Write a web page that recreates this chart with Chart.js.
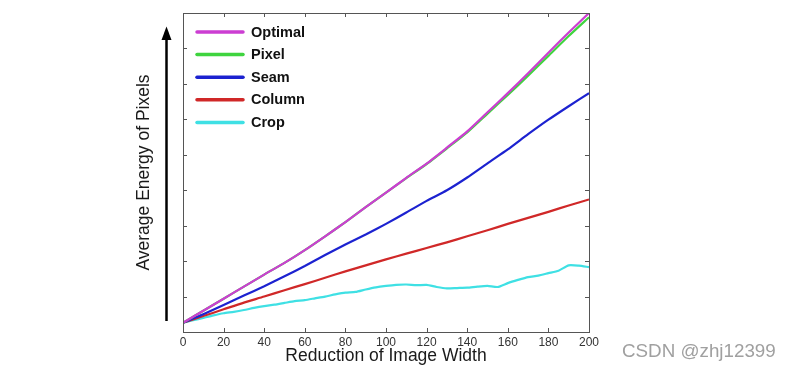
<!DOCTYPE html>
<html><head><meta charset="utf-8">
<script src="https://cdn.jsdelivr.net/npm/chart.js@4.4.1/dist/chart.umd.min.js"></script>
<style>html,body{margin:0;padding:0;background:#fff;}canvas{display:block;}</style>
</head><body>
<canvas id="c" width="794" height="372"></canvas>
<script>
// ---- data ----
const xSteps = [0,10,20,30,40,50,60,70,80,90,100,110,120,130,140,150,160,170,180,190,200];
const optimal = [0.26,0.60,0.94,1.28,1.62,1.95,2.31,2.70,3.10,3.52,3.93,4.35,4.75,5.20,5.66,6.20,6.74,7.30,7.88,8.45,9.00];
const pixel   = [0.26,0.60,0.94,1.28,1.62,1.95,2.31,2.70,3.10,3.52,3.93,4.34,4.74,5.18,5.63,6.16,6.69,7.23,7.79,8.35,8.88];
const seam    = [0.26,0.50,0.76,1.03,1.29,1.57,1.86,2.17,2.47,2.75,3.05,3.37,3.70,4.00,4.36,4.76,5.15,5.58,5.99,6.37,6.74];
const column  = [0.26,0.45,0.64,0.83,1.00,1.18,1.35,1.53,1.71,1.88,2.05,2.21,2.37,2.53,2.70,2.87,3.05,3.22,3.39,3.57,3.74];
const cropX   = [0,5,10,15,20,25,30,35,40,45,50,55,60,65,70,75,80,85,90,95,100,105,110,115,120,125,130,135,140,145,150,155,160,165,170,175,180,185,190,195,200];
const crop    = [0.26,0.33,0.40,0.47,0.53,0.57,0.62,0.68,0.73,0.77,0.82,0.87,0.90,0.95,1.00,1.06,1.11,1.13,1.20,1.26,1.30,1.33,1.34,1.32,1.33,1.27,1.23,1.24,1.25,1.28,1.30,1.27,1.38,1.47,1.55,1.59,1.66,1.73,1.88,1.87,1.83];
const seriesNames = ['Optimal','Pixel','Seam','Column','Crop'];
const xTicks = [0,20,40,60,80,100,120,140,160,180,200];
const yTicks = [0,1,2,3,4,5,6,7,8,9];

const colors = ['#cc3ed2','#3fd43f','#1c22d0','#d02828','#3fe0e4'];
const toPts = (xs, ys) => xs.map((x,i)=>({x:x,y:ys[i]}));
const seriesData = [toPts(xSteps,optimal),toPts(xSteps,pixel),toPts(xSteps,seam),toPts(xSteps,column),toPts(cropX,crop)];
const FONT = '"Liberation Sans", Arial, sans-serif';

const framePlugin = {
  id:'frame',
  afterDatasetsDraw(chart){
    const {ctx, chartArea:a, scales:{x,y}} = chart;
    ctx.save();
    ctx.strokeStyle='#555'; ctx.lineWidth=1;
    ctx.strokeRect(Math.round(a.left)+0.5, Math.round(a.top)+0.5, Math.round(a.right-a.left), Math.round(a.bottom-a.top));
    ctx.beginPath();
    xTicks.forEach(v=>{const px=Math.round(x.getPixelForValue(v))+0.5;
      ctx.moveTo(px,a.bottom); ctx.lineTo(px,a.bottom-4);
      ctx.moveTo(px,a.top); ctx.lineTo(px,a.top+4);});
    yTicks.forEach(v=>{const py=Math.round(y.getPixelForValue(v))+0.5;
      ctx.moveTo(a.left,py); ctx.lineTo(a.left+4,py);
      ctx.moveTo(a.right,py); ctx.lineTo(a.right-4,py);});
    ctx.stroke();
    // legend
    ctx.font='bold 14.5px ' + FONT;
    ctx.textBaseline='middle';
    chart.data.datasets.forEach((ds,i)=>{
      const yy = 32 + i*22.6;
      ctx.strokeStyle=ds.borderColor; ctx.lineWidth=3.5; ctx.lineCap='round';
      ctx.beginPath(); ctx.moveTo(197,yy); ctx.lineTo(243,yy); ctx.stroke();
      ctx.fillStyle='#111'; ctx.fillText(ds.label, 251, yy+0.5);
    });
    // arrow
    ctx.strokeStyle='#000'; ctx.fillStyle='#000'; ctx.lineWidth=2.5; ctx.lineCap='butt';
    ctx.beginPath(); ctx.moveTo(166.5,321); ctx.lineTo(166.5,38); ctx.stroke();
    ctx.beginPath(); ctx.moveTo(166.5,26.5); ctx.lineTo(161.5,40); ctx.lineTo(171.5,40); ctx.closePath(); ctx.fill();
    // watermark
    ctx.font='18.8px ' + FONT;
    ctx.fillStyle='#a0a0a0'; ctx.textBaseline='middle';
    ctx.fillText('CSDN @zhj12399', 622, 352);
    ctx.restore();
  }
};

new Chart(document.getElementById('c'), {
  type:'line',
  data:{ datasets: seriesNames.map((n,i)=>({label:n, data:seriesData[i], borderColor:colors[i], backgroundColor:colors[i],
        borderWidth:2.2, pointRadius:0, tension:0.2, fill:false})) },
  options:{
    responsive:false, animation:false, devicePixelRatio:1,
    layout:{padding:{top:13,right:205,left:128,bottom:0}},
    plugins:{legend:{display:false}, tooltip:{enabled:false}},
    scales:{
      x:{type:'linear', min:0, max:200,
         afterBuildTicks(s){s.ticks = xTicks.map(v=>({value:v}));},
         afterFit(s){s.height=40;},
         grid:{display:false, drawTicks:false, tickLength:0}, border:{display:false},
         ticks:{padding:3, color:'#333', font:{family:FONT, size:12}, maxRotation:0, autoSkip:false},
         title:{display:true, text:'Reduction of Image Width', color:'#1a1a1a', padding:{top:0,bottom:5},
                font:{family:FONT, size:17.5}}},
      y:{type:'linear', min:0, max:9,
         afterBuildTicks(s){s.ticks = yTicks.map(v=>({value:v}));},
         afterFit(s){s.width=55;},
         grid:{display:false, drawTicks:false, tickLength:0}, border:{display:false},
         ticks:{display:false},
         title:{display:true, text:'Average Energy of Pixels', color:'#1a1a1a', padding:{top:6,bottom:0},
                font:{family:FONT, size:17.5}}}
    }
  },
  plugins:[framePlugin]
});
</script>
</body></html>
